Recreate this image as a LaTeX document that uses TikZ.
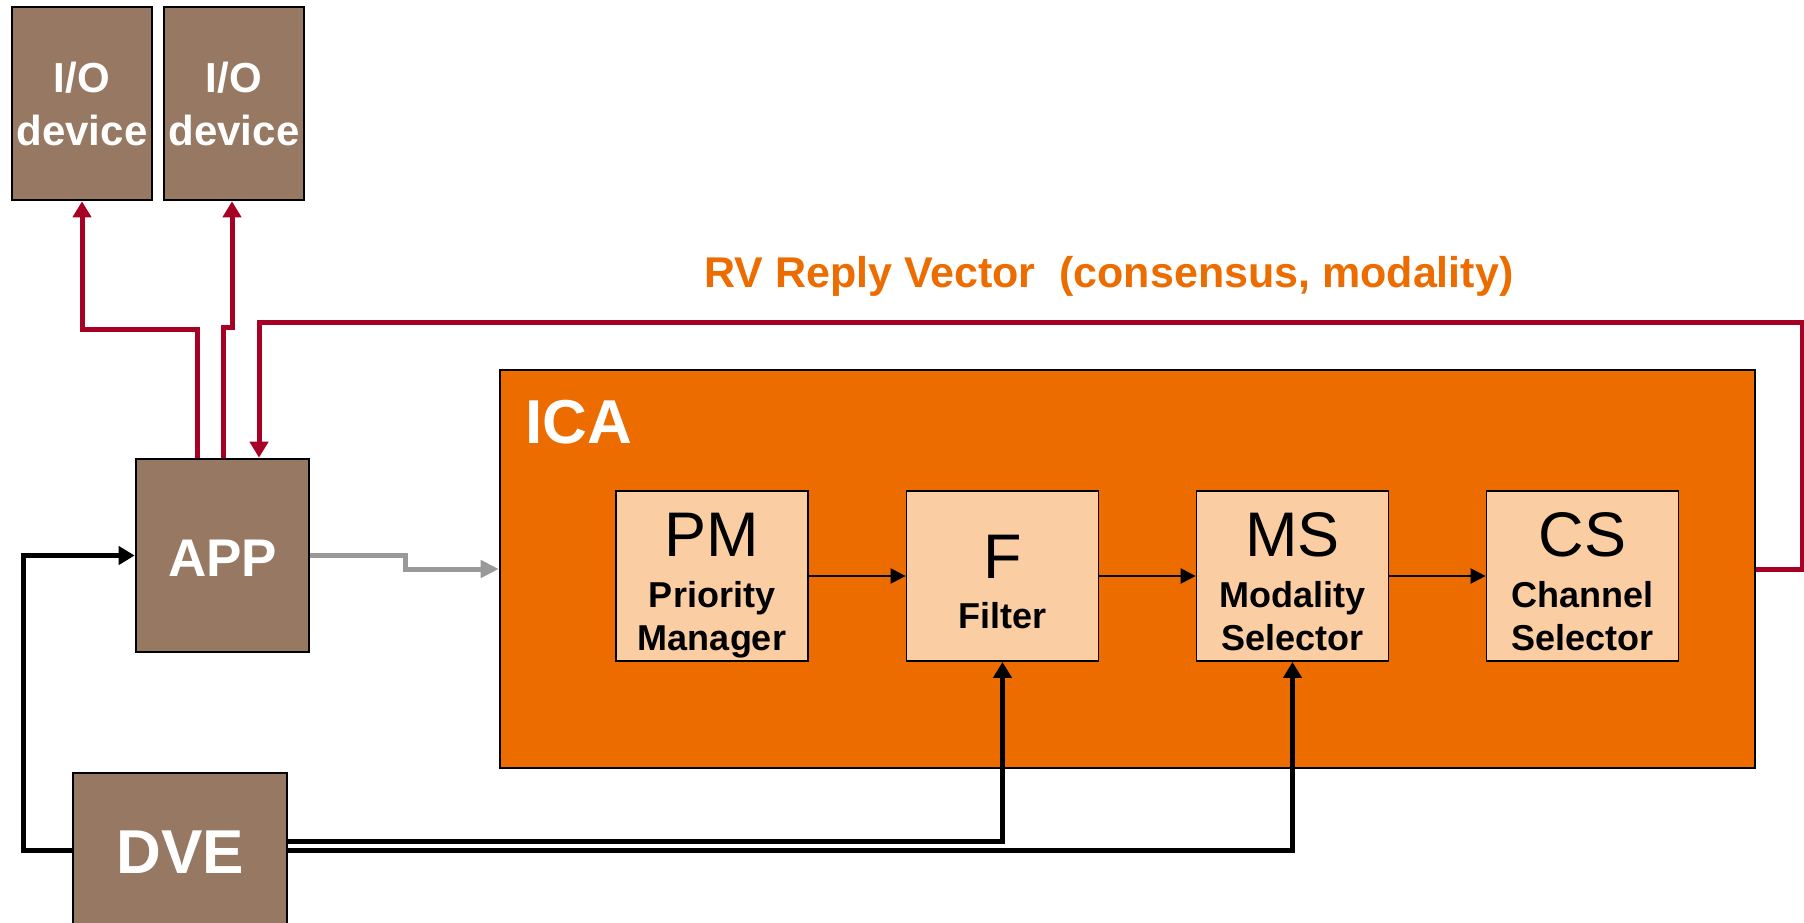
\documentclass[tikz,border=0pt]{standalone}
\usepackage{fontspec}
\setmainfont{Liberation Sans}
\usetikzlibrary{arrows.meta}

\definecolor{devbrown}{RGB}{150,120,99}
\definecolor{icaorange}{RGB}{236,108,0}
\definecolor{peach}{RGB}{250,205,163}
\definecolor{linkred}{RGB}{166,0,36}
\definecolor{linkgray}{RGB}{153,153,153}

\newcommand\fsz[1]{\fontsize{#1}{#1}\selectfont}

\tikzset{
  devbox/.style={draw=black, line width=2.6pt, fill=devbrown, inner sep=0pt},
  subbox/.style={draw=black, line width=1.8pt, fill=peach, inner sep=0pt,
                 minimum width=192pt, minimum height=170pt},
  icabox/.style={draw=black, line width=2.6pt, fill=icaorange, inner sep=0pt,
                 minimum width=1255pt, minimum height=398pt},
  devtext/.style={text=white, font=\bfseries, inner sep=0pt, anchor=base},
  abbr/.style={text=black, font=\fsz{63}, inner sep=0pt, anchor=base},
  full/.style={text=black, font=\bfseries\fsz{36}, inner sep=0pt, anchor=base},
  bigtip/.style={-{Triangle[length=16pt,width=18pt]}},
  redlink/.style={draw=linkred, line width=5pt, bigtip},
  blacklink/.style={draw=black, line width=5pt, bigtip},
  graylink/.style={draw=linkgray, line width=5pt, -{Triangle[length=18pt,width=17pt]}},
  flow/.style={draw=black, line width=2.4pt, -{Triangle[length=15pt,width=15pt]}},
}

\begin{document}
\begin{tikzpicture}[x=1pt, y=-1pt]
\useasboundingbox (0,0) rectangle (1804,923);

% devices
\node[devbox, minimum width=140pt, minimum height=193pt] (io1) at (82,103.5) {};
\node[devbox, minimum width=140pt, minimum height=193pt] (io2) at (234,103.5) {};
\node[devtext, font=\bfseries\fsz{42}] (io1a) at (82,93) {I/O};
\node[devtext, font=\bfseries\fsz{42}] (io1b) at (82,146) {device};
\node[devtext, font=\bfseries\fsz{42}] (io2a) at (234,93) {I/O};
\node[devtext, font=\bfseries\fsz{42}] (io2b) at (234,146) {device};

\node[devbox, minimum width=173pt, minimum height=193pt] (app) at (222.5,555.5) {};
\node[devtext, font=\bfseries\fsz{53}] (appt) at (222.5,576) {APP};

\node[devbox, minimum width=214pt, minimum height=154pt] (dve) at (180,850) {};
\node[devtext, font=\bfseries\fsz{62}] (dvet) at (180,873) {DVE};

% ICA block with its four stages
\node[icabox] (ica) at (1127.5,569) {};
\node[devtext, font=\bfseries\fsz{62}, anchor=base west] (icat) at (525,443) {ICA};

\node[subbox] (pm) at (712,576) {};
\node[abbr] (pma) at (712,556) {PM};
\node[full] (pmb) at (712,607) {Priority};
\node[full] (pmc) at (712,650) {Manager};

\node[subbox] (f) at (1002.5,576) {};
\node[abbr] (fa) at (1002.5,578) {F};
\node[full] (fb) at (1002.5,628) {Filter};

\node[subbox] (ms) at (1292.5,576) {};
\node[abbr] (msa) at (1292.5,556) {MS};
\node[full] (msb) at (1292.5,607) {Modality};
\node[full] (msc) at (1292.5,650) {Selector};

\node[subbox] (cs) at (1582.5,576) {};
\node[abbr] (csa) at (1582.5,556) {CS};
\node[full] (csb) at (1582.5,607) {Channel};
\node[full] (csc) at (1582.5,650) {Selector};

\draw[flow] (pm.east) -- (f.west);
\draw[flow] (f.east) -- (ms.west);
\draw[flow] (ms.east) -- (cs.west);

% reply vector back to the application
\node[text=icaorange, font=\bfseries\fsz{43}, inner sep=0pt, anchor=base west] (rv)
  at (704,287) {RV Reply Vector\ \ (consensus, modality)};
\draw[redlink] (ica.east) -- ++(46,0) -- ++(0,-247) -| ([xshift=36.5pt]app.north);

% application outputs to the devices
\draw[redlink] ([xshift=-25.5pt]app.north) -- ++(0,-128) -| (io1.south);
\draw[redlink] ([xshift=0.5pt]app.north) -- ++(0,-130) -| ([xshift=-2pt]io2.south);

% application request into ICA
\draw[graylink] (app.east) -- ++(95,0) |- (ica.west);

% DVE inputs
\draw[blacklink] (dve.west) -- ++(-48,0) |- (app.west);
\draw[blacklink] ([yshift=9pt]dve.east) -| (f.south);
\draw[blacklink] (dve.east) -| (ms.south);
\end{tikzpicture}
\end{document}
